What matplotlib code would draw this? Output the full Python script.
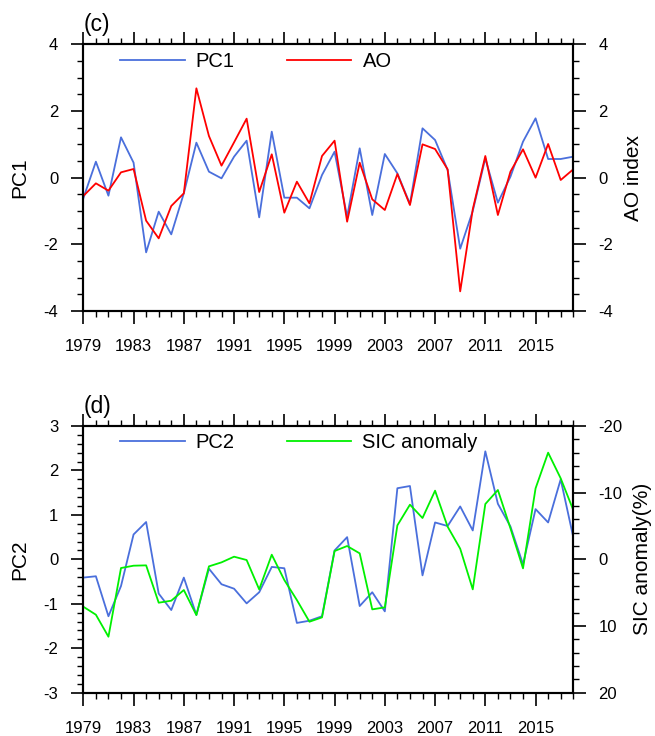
import matplotlib
matplotlib.use("Agg")
import matplotlib.pyplot as plt
import numpy as np
from matplotlib.ticker import MultipleLocator

plt.rcParams['font.family'] = ['Liberation Sans', 'DejaVu Sans']
plt.rcParams['axes.unicode_minus'] = False

years = np.arange(1979, 2019)

# panel (c)
pc1 = [-0.62, 0.48, -0.54, 1.21, 0.45, -2.24, -1.02, -1.70, -0.47, 1.05,
       0.18, -0.02, 0.63, 1.11, -1.19, 1.38, -0.60, -0.60, -0.92, 0.08,
       0.78, -1.17, 0.88, -1.12, 0.71, 0.13, -0.79, 1.48, 1.13, 0.23,
       -2.13, -1.00, 0.58, -0.75, 0.03, 1.08, 1.78, 0.56, 0.56, 0.63]
ao = [-0.55, -0.17, -0.39, 0.16, 0.26, -1.29, -1.82, -0.85, -0.47, 2.68,
      1.25, 0.36, 1.06, 1.77, -0.43, 0.70, -1.05, -0.12, -0.77, 0.65,
      1.11, -1.32, 0.45, -0.65, -0.97, 0.11, -0.82, 1.00, 0.86, 0.25,
      -3.41, -0.95, 0.65, -1.12, 0.18, 0.85, 0.00, 1.01, -0.07, 0.25]

# panel (d)
pc2 = [-0.41, -0.38, -1.28, -0.60, 0.56, 0.84, -0.77, -1.14, -0.41, -1.25,
       -0.21, -0.56, -0.66, -0.99, -0.74, -0.17, -0.20, -1.43, -1.38, -1.28,
       0.20, 0.50, -1.05, -0.74, -1.17, 1.60, 1.65, -0.36, 0.83, 0.75,
       1.19, 0.65, 2.43, 1.25, 0.74, -0.11, 1.13, 0.83, 1.80, 0.50]
sic = [7.1, 8.3, 11.6, 1.3, 0.95, 0.9, 6.5, 6.2, 4.6, 8.35,
       1.05, 0.45, -0.4, 0.1, 4.5, -0.7, 3.1, 6.1, 9.35, 8.7,
       -1.25, -2.0, -0.9, 7.5, 7.2, -5.1, -8.2, -6.2, -10.3, -4.9,
       -1.6, 4.5, -8.3, -10.4, -4.65, 1.35, -10.65, -16.0, -12.15, -7.4]

year_ticks = list(range(1979, 2016, 4))

BLUE = '#4a6fdc'
RED = '#ff0000'
GREEN = '#00f000'


def style_axes(ax, twin):
    for a in (ax, twin):
        for s in a.spines.values():
            s.set_linewidth(1.5)
    ax.set_xlim(1979, 2018)
    ax.set_xticks(year_ticks)
    ax.xaxis.set_minor_locator(MultipleLocator(1))
    ax.tick_params(axis='x', which='both', direction='out', top=True, labelsize=12, pad=11)
    ax.tick_params(axis='y', which='both', direction='out', labelsize=12, pad=9)
    ax.tick_params(which='major', length=9, width=1.2)
    ax.tick_params(which='minor', length=4.5, width=1.0)
    twin.tick_params(axis='y', which='both', direction='out', labelsize=12, pad=9)
    twin.tick_params(which='major', length=9, width=1.2)
    twin.tick_params(which='minor', length=4.5, width=1.0)


fig = plt.figure(figsize=(6.55, 7.36), dpi=100)

# (c) PC1 and AO
ax1 = fig.add_axes([0.1272, 0.5774, 0.748, 0.3624])
ax1r = ax1.twinx()
l1, = ax1.plot(years, pc1, color=BLUE, lw=1.3, label='PC1')
l2, = ax1r.plot(years, ao, color=RED, lw=1.3, label='AO')
ax1.set_ylim(-4, 4)
ax1r.set_ylim(-4, 4)
ax1.set_yticks([-4, -2, 0, 2, 4])
ax1r.set_yticks([-4, -2, 0, 2, 4])
ax1.yaxis.set_minor_locator(MultipleLocator(0.5))
ax1r.yaxis.set_minor_locator(MultipleLocator(0.5))
style_axes(ax1, ax1r)
ax1.set_ylabel('PC1', fontsize=15, labelpad=10)
ax1r.set_ylabel('AO index', fontsize=15, labelpad=8)
ax1.text(0.0, 1.03, '(c)', transform=ax1.transAxes, fontsize=16.5, ha='left', va='bottom')
ax1r.legend([l1, l2], ['PC1', 'AO'], ncol=2, loc='center left', bbox_to_anchor=(0.075, 0.937),
            frameon=False, fontsize=14.5, handlelength=3.2, handletextpad=0.55,
            columnspacing=2.6, borderpad=0, borderaxespad=0)

# (d) PC2 and SIC anomaly
ax2 = fig.add_axes([0.1272, 0.0588, 0.748, 0.3624])
ax2r = ax2.twinx()
l3, = ax2.plot(years, pc2, color=BLUE, lw=1.3, label='PC2')
l4, = ax2r.plot(years, sic, color=GREEN, lw=1.3, label='SIC anomaly')
ax2.set_ylim(-3, 3)
ax2.set_yticks([-3, -2, -1, 0, 1, 2, 3])
ax2.yaxis.set_minor_locator(MultipleLocator(0.2))
ax2r.set_ylim(20, -20)
ax2r.set_yticks([20, 10, 0, -10, -20])
ax2r.yaxis.set_minor_locator(MultipleLocator(2))
style_axes(ax2, ax2r)
ax2.set_ylabel('PC2', fontsize=15, labelpad=10)
ax2r.set_ylabel('SIC anomaly(%)', fontsize=15, labelpad=8)
ax2.text(0.0, 1.03, '(d)', transform=ax2.transAxes, fontsize=16.5, ha='left', va='bottom')
ax2r.legend([l3, l4], ['PC2', 'SIC anomaly'], ncol=2, loc='center left', bbox_to_anchor=(0.075, 0.937),
            frameon=False, fontsize=14.5, handlelength=3.2, handletextpad=0.55,
            columnspacing=2.6, borderpad=0, borderaxespad=0)

fig.savefig('out.png', dpi=100)
